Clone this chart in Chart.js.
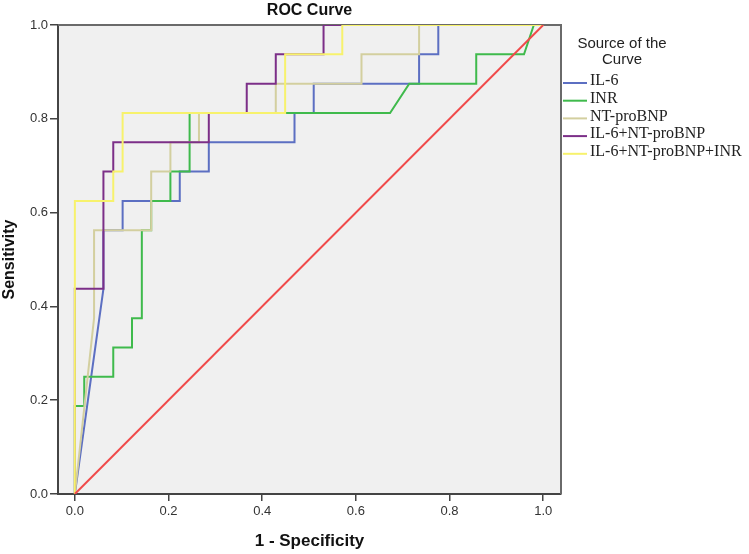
<!DOCTYPE html>
<html>
<head>
<meta charset="utf-8">
<script src="https://cdn.jsdelivr.net/npm/chart.js@4.4.1/dist/chart.umd.min.js"></script>
<style>
  html, body { margin: 0; padding: 0; background: #ffffff; }
  #wrap { width: 749px; height: 554px; }
</style>
</head>
<body>
<div id="wrap"><canvas id="c" width="749" height="554"></canvas></div>
<script>
// ---- Data (x = 1 - Specificity, y = Sensitivity) ----
const seriesNames = ['IL-6', 'INR', 'NT-proBNP', 'IL-6+NT-proBNP', 'IL-6+NT-proBNP+INR'];

const il6X = [0, 0.061, 0.061, 0.102, 0.102, 0.224, 0.224, 0.286, 0.286, 0.469, 0.469, 0.510, 0.510, 0.735, 0.735, 0.776, 0.776, 1];
const il6Y = [0, 0.4375, 0.5625, 0.5625, 0.625, 0.625, 0.6875, 0.6875, 0.75, 0.75, 0.8125, 0.8125, 0.875, 0.875, 0.9375, 0.9375, 1, 1];

const inrX = [0, 0, 0.020, 0.020, 0.082, 0.082, 0.122, 0.122, 0.143, 0.143, 0.163, 0.163, 0.204, 0.204, 0.245, 0.245, 0.673, 0.714, 0.857, 0.857, 0.959, 0.980, 1];
const inrY = [0, 0.1875, 0.1875, 0.25, 0.25, 0.3125, 0.3125, 0.375, 0.375, 0.5625, 0.5625, 0.625, 0.625, 0.6875, 0.6875, 0.8125, 0.8125, 0.875, 0.875, 0.9375, 0.9375, 1, 1];

const ntX = [0, 0.041, 0.041, 0.163, 0.163, 0.204, 0.204, 0.265, 0.265, 0.429, 0.429, 0.612, 0.612, 0.735, 0.735, 1];
const ntY = [0, 0.375, 0.5625, 0.5625, 0.6875, 0.6875, 0.75, 0.75, 0.8125, 0.8125, 0.875, 0.875, 0.9375, 0.9375, 1, 1];

const il6ntX = [0, 0, 0.061, 0.061, 0.082, 0.082, 0.286, 0.286, 0.367, 0.367, 0.429, 0.429, 0.531, 0.531, 1];
const il6ntY = [0, 0.4375, 0.4375, 0.6875, 0.6875, 0.75, 0.75, 0.8125, 0.8125, 0.875, 0.875, 0.9375, 0.9375, 1, 1];

const il6ntinrX = [0, 0, 0.082, 0.082, 0.102, 0.102, 0.449, 0.449, 0.571, 0.571, 1];
const il6ntinrY = [0, 0.625, 0.625, 0.6875, 0.6875, 0.8125, 0.8125, 0.9375, 0.9375, 1, 1];

const refX = [0, 1];
const refY = [0, 1];

const xTicks = [0, 0.2, 0.4, 0.6, 0.8, 1.0];
const yTicks = [0, 0.2, 0.4, 0.6, 0.8, 1.0];

// ---- Styles ----
const colors = ['#5c6fc2', '#3fba4c', '#d3cf9f', '#7c2f88', '#f7f26c'];
const refColor = '#f04a4a';

function pts(xs, ys) { return xs.map((x, i) => ({ x: x, y: ys[i] })); }

const seriesData = [pts(il6X, il6Y), pts(inrX, inrY), pts(ntX, ntY), pts(il6ntX, il6ntY), pts(il6ntinrX, il6ntinrY)];
const drawOrder = [5, 4, 3, 2, 1];

const datasets = seriesNames.map((name, i) => ({
  label: name,
  data: seriesData[i],
  borderColor: colors[i],
  backgroundColor: colors[i],
  borderWidth: 2,
  showLine: true,
  pointRadius: 0,
  tension: 0,
  order: drawOrder[i]
}));
datasets.push({
  label: 'Reference Line',
  data: pts(refX, refY),
  borderColor: refColor,
  backgroundColor: refColor,
  borderWidth: 2,
  showLine: true,
  pointRadius: 0,
  order: 0
});

const SANS = "'Liberation Sans', Arial, sans-serif";
const SERIF = "'Liberation Serif', 'Times New Roman', serif";

const decorPlugin = {
  id: 'decor',
  beforeDraw(chart) {
    const { ctx, chartArea: a } = chart;
    ctx.save();
    ctx.fillStyle = '#ffffff';
    ctx.fillRect(0, 0, chart.width, chart.height);
    ctx.fillStyle = '#f0f0f0';
    ctx.fillRect(a.left, a.top, a.right - a.left, a.bottom - a.top);
    ctx.restore();
  },
  beforeDatasetsDraw(chart) {
    const { ctx, chartArea: a } = chart;
    ctx.save();
    ctx.strokeStyle = '#6a6a6a';
    ctx.lineWidth = 2;
    ctx.beginPath();
    ctx.moveTo(a.left, a.top);
    ctx.lineTo(a.right, a.top);
    ctx.lineTo(a.right, a.bottom);
    ctx.stroke();
    ctx.restore();
  },
  afterDraw(chart) {
    const { ctx, chartArea: a } = chart;
    ctx.save();
    // Title, centred over the plot area
    ctx.fillStyle = '#111';
    ctx.font = 'bold 16px ' + SANS;
    ctx.textAlign = 'center';
    ctx.textBaseline = 'middle';
    ctx.fillText('ROC Curve', (a.left + a.right) / 2, 11);
    // Legend header
    ctx.font = '15px ' + SANS;
    ctx.fillStyle = '#222';
    ctx.fillText('Source of the', 622, 44);
    ctx.fillText('Curve', 622, 60);
    // Legend items
    ctx.textAlign = 'left';
    ctx.font = '16px ' + SERIF;
    chart.data.datasets.slice(0, seriesNames.length).forEach((ds, i) => {
      const y = 81 + 17.7 * i;
      ctx.strokeStyle = ds.borderColor;
      ctx.lineWidth = 2;
      ctx.beginPath();
      ctx.moveTo(563, y + 2);
      ctx.lineTo(587, y + 2);
      ctx.stroke();
      ctx.fillStyle = '#222';
      ctx.fillText(ds.label, 590, y);
    });
    ctx.restore();
  }
};

new Chart(document.getElementById('c'), {
  type: 'scatter',
  data: { datasets: datasets },
  plugins: [decorPlugin],
  options: {
    responsive: false,
    animation: false,
    devicePixelRatio: 1,
    layout: { padding: { left: 0, right: 188, top: 25, bottom: 0 } },
    plugins: {
      legend: { display: false },
      title: { display: false },
      tooltip: { enabled: false }
    },
    scales: {
      x: {
        type: 'linear',
        min: -0.036,
        max: 1.038,
        afterBuildTicks(scale) { scale.ticks = xTicks.map(v => ({ value: v })); },
        afterFit(scale) { scale.height = 60; },
        ticks: {
          font: { family: SANS, size: 13 },
          color: '#333',
          padding: 3,
          maxRotation: 0,
          callback: v => Number(v).toFixed(1)
        },
        grid: { display: true, drawOnChartArea: false, drawTicks: true, tickLength: 7, color: '#444', lineWidth: 1.5 },
        border: { display: true, color: '#444', width: 2 },
        title: {
          display: true,
          text: '1 - Specificity',
          font: { family: SANS, size: 17, weight: 'bold' },
          color: '#111',
          padding: { top: 0, bottom: 2 }
        }
      },
      y: {
        type: 'linear',
        min: 0,
        max: 1,
        afterBuildTicks(scale) { scale.ticks = yTicks.map(v => ({ value: v })); },
        afterFit(scale) { scale.width = 58; },
        ticks: {
          font: { family: SANS, size: 13 },
          color: '#333',
          padding: 2,
          callback: v => Number(v).toFixed(1)
        },
        grid: { display: true, drawOnChartArea: false, drawTicks: true, tickLength: 8, color: '#444', lineWidth: 1.5 },
        border: { display: true, color: '#444', width: 2 },
        title: {
          display: true,
          text: 'Sensitivity',
          font: { family: SANS, size: 16, weight: 'bold' },
          color: '#111',
          padding: { top: 0, bottom: 0 }
        }
      }
    }
  }
});
</script>
</body>
</html>
